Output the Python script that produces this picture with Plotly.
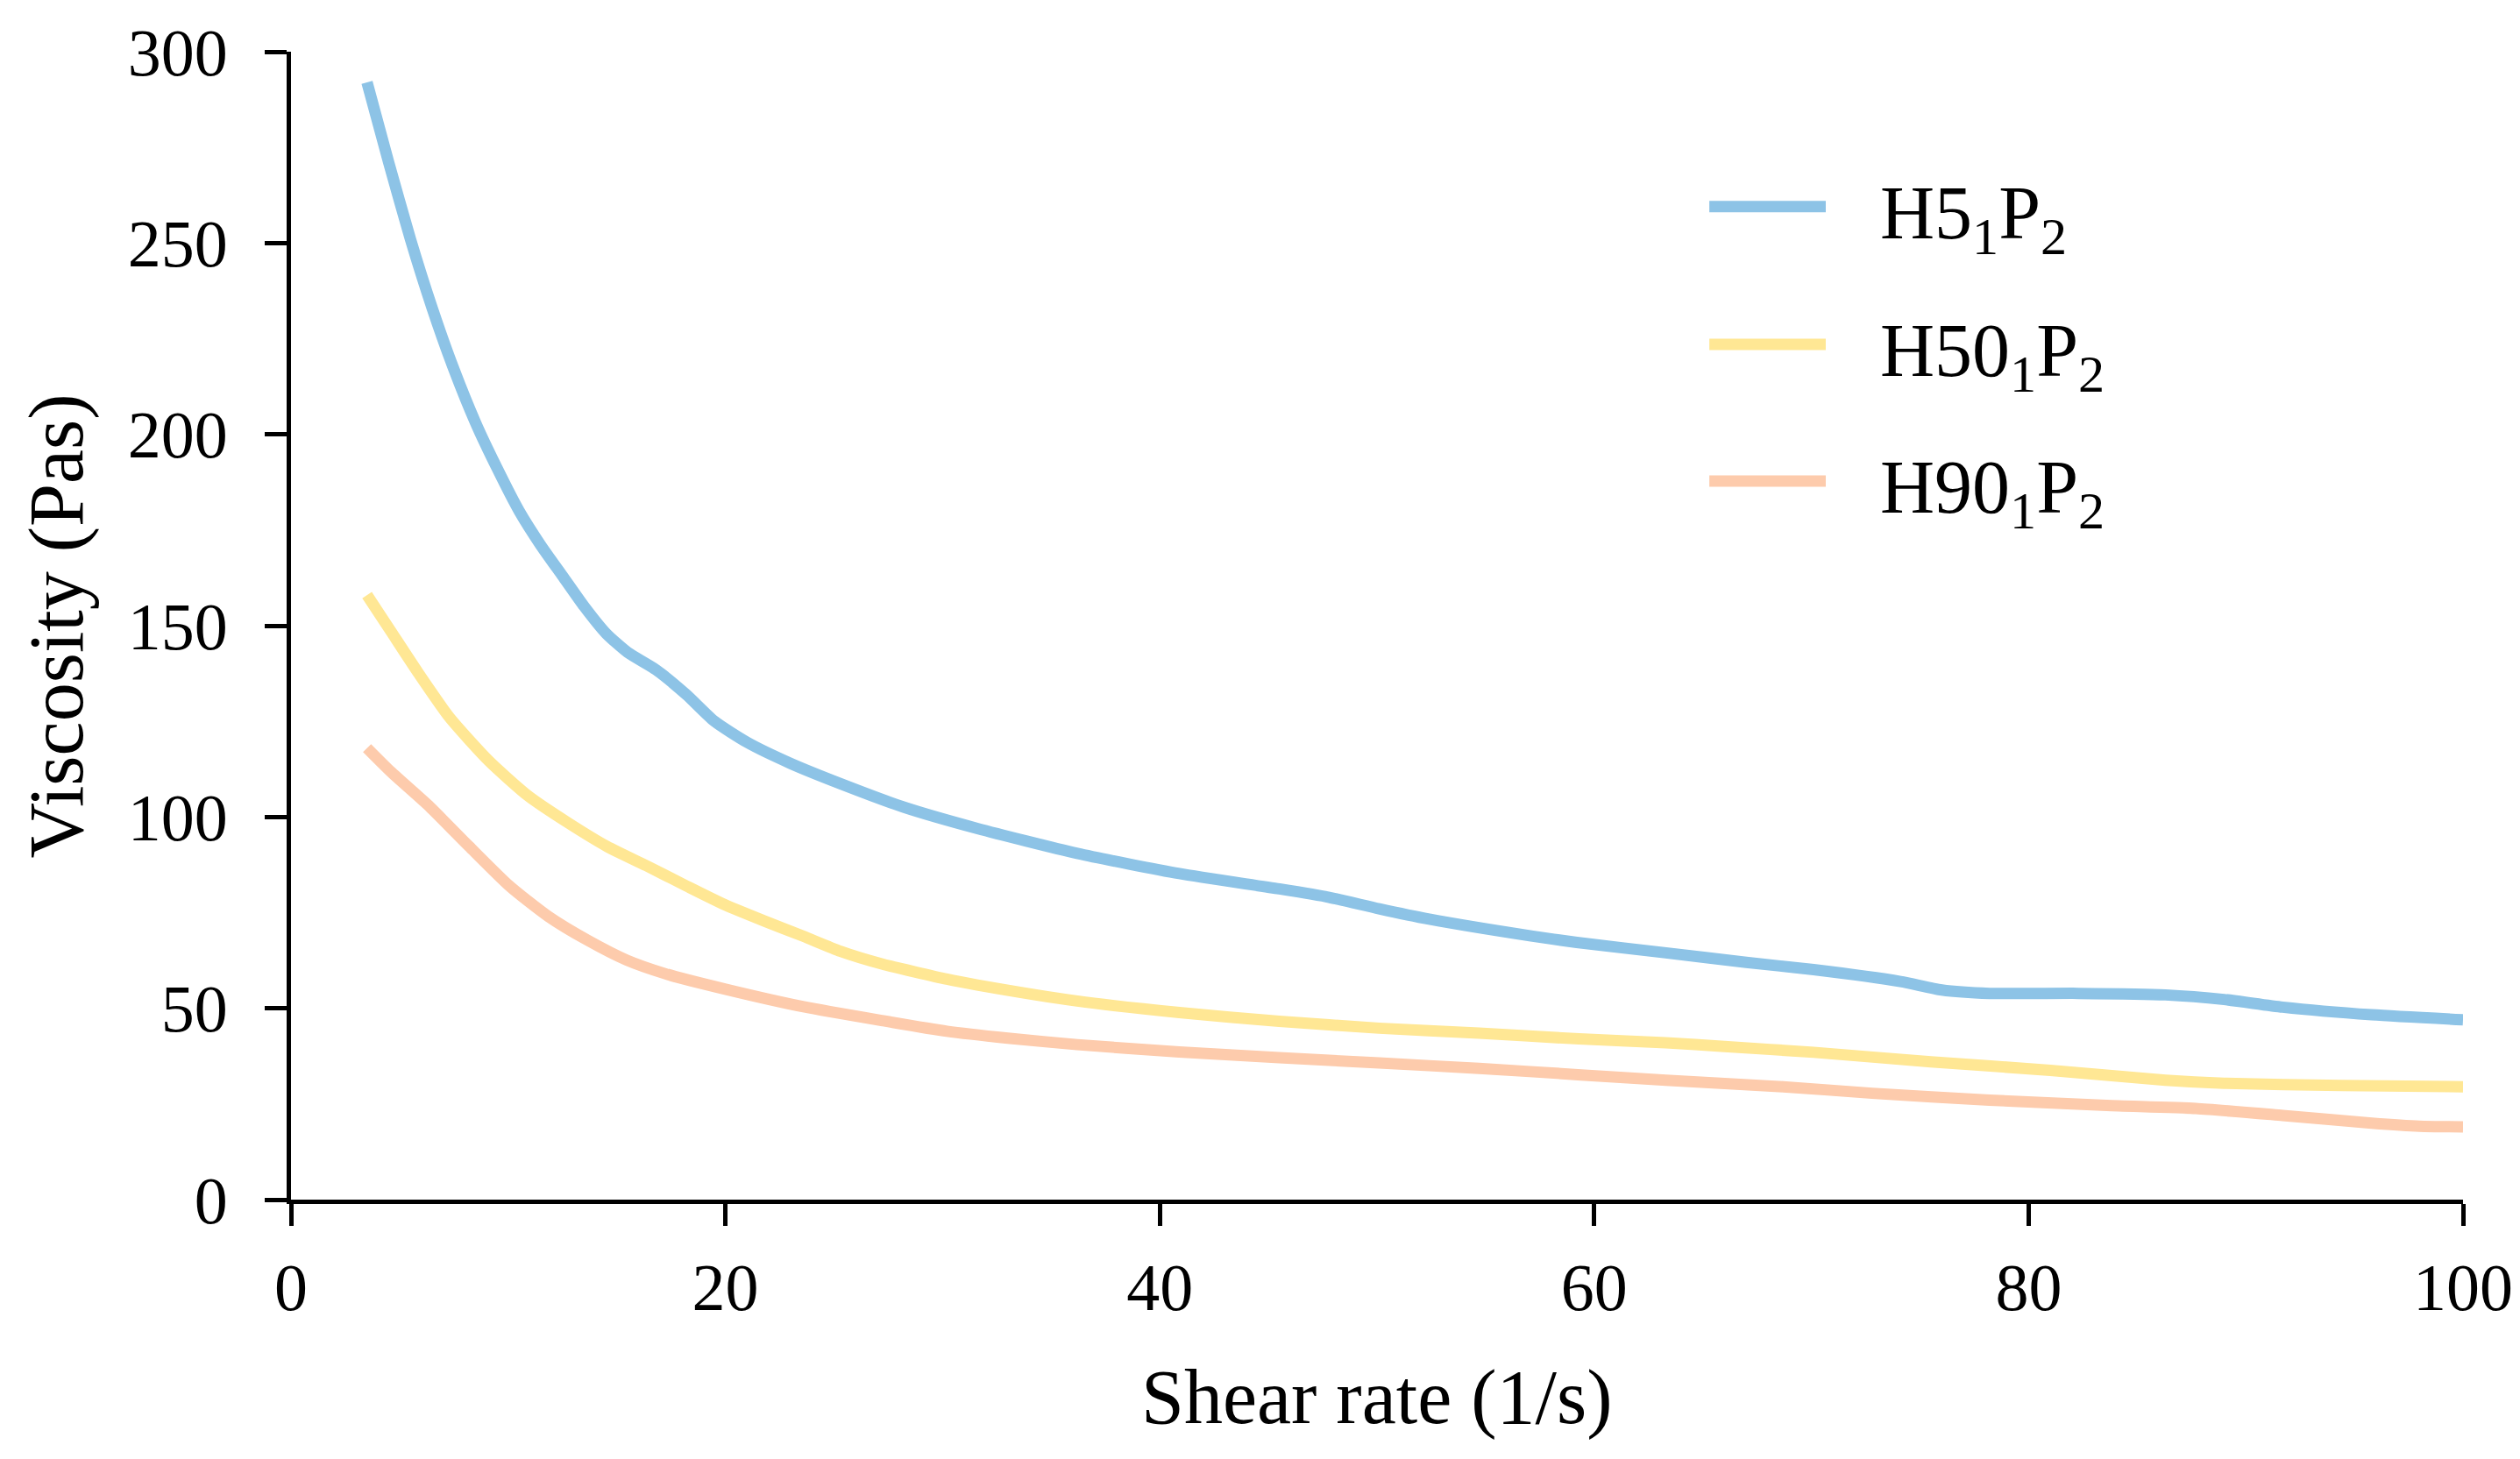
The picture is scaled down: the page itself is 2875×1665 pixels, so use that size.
import plotly.graph_objects as go

# ---- data ----
x_h5 = [3.5, 4.5, 5.5, 6.5, 7.5, 8.5, 9.5, 10.5, 11.5, 12.5, 13.5, 14.5, 15.5, 16.8,
        18.2, 19.5, 21.0, 23.0, 25.3, 28.2, 31.6, 36.2, 40.9, 45.5, 47.8, 50.1, 52.4,
        57.1, 59.2, 63.3, 67.0, 70.1, 74.1, 76.0, 78.2, 82.3, 86.3, 89.0, 91.7, 95.8,
        100.0]
y_h5 = [292, 271, 251, 233, 217, 203, 191, 180, 171, 163, 155, 148, 143, 138.5,
        132, 125, 119.5, 114, 108.7, 102.6, 97, 90.5, 85.2, 81.2, 79, 76, 73.3,
        68.9, 67.2, 64.5, 62, 60.1, 57, 54.8, 53.9, 53.9, 53.5, 52.3, 50.3, 48.3,
        47]

x_h50 = [3.5, 4.6, 5.9, 7.3, 9.1, 10.9, 12.75, 14.55, 16.35, 18.2, 20.0, 21.8, 23.6,
         25.3, 27.2, 30.2, 31.6, 36.2, 40.9, 45.5, 50.1, 54.7, 59.3, 63.3, 66.0, 70.1,
         75.5, 81.0, 86.3, 89.0, 94.4, 100.0]
y_h50 = [158, 148.5, 137.3, 126, 114.7, 105.6, 98.5, 92.3, 87.3, 82, 77, 72.8, 68.8,
         64.9, 61.6, 57.6, 56.1, 51.9, 48.9, 46.6, 44.8, 43.5, 42, 41, 40, 38.5,
         36, 33.8, 31.2, 30.4, 29.8, 29.5]

x_h90 = [3.5, 4.6, 6.4, 8.2, 10.05, 11.85, 13.65, 15.45, 17.25, 20.0, 23.6, 27.2, 30.2,
         33.0, 36.2, 40.9, 45.5, 50.1, 54.7, 59.4, 63.3, 68.7, 72.8, 78.2, 83.6, 87.7,
         91.7, 95.8, 98.0, 100.0]
y_h90 = [118, 111.8, 102.6, 92.3, 82, 74, 67.8, 62.6, 59, 55, 50.4, 46.8, 44.0,
         42.2, 40.5, 38.6, 37.1, 35.7, 34.3, 32.6, 31.2, 29.5, 27.8, 26, 24.6, 23.8,
         22, 20, 19.2, 19]

names = ["H5<sub>1</sub>P<sub>2</sub>", "H50<sub>1</sub>P<sub>2</sub>", "H90<sub>1</sub>P<sub>2</sub>"]
colors = ["#8DC3E6", "#FFE794", "#FDCBAC"]

x_ticks = [0, 20, 40, 60, 80, 100]
y_ticks = [0, 50, 100, 150, 200, 250, 300]

FONT = "Liberation Serif"

fig = go.Figure()
for xs, ys, nm, c in zip([x_h5, x_h50, x_h90], [y_h5, y_h50, y_h90], names, colors):
    fig.add_trace(go.Scatter(x=xs, y=ys, mode="lines", name=nm,
                             line=dict(color=c, width=13, shape="spline", smoothing=0.6),
                             showlegend=False))

axis_common = dict(showline=True, linecolor="black", linewidth=5, ticks="outside",
                   ticklen=25, tickwidth=5, tickcolor="black", showgrid=False,
                   zeroline=False, automargin=False,
                   tickfont=dict(family=FONT, size=76, color="black"))

# page body has an 8px default margin, so the figure is sized to fit inside the window
fig.update_layout(
    width=2867, height=1657,
    margin=dict(l=324, r=65, t=51, b=296),
    paper_bgcolor="white", plot_bgcolor="white",
    xaxis=dict(range=[0, 100], tickvals=x_ticks, ticklabelstandoff=5, **axis_common),
    yaxis=dict(range=[0, 300], tickvals=y_ticks, ticklabelstandoff=27, **axis_common),
)

# axis titles
fig.add_annotation(text="Shear rate (1/s)", xref="paper", yref="paper", x=0.5, y=-0.172,
                   xanchor="center", yanchor="middle", showarrow=False,
                   font=dict(family=FONT, size=88, color="black"))
fig.add_annotation(text="Viscosity (Pas)", xref="paper", yref="paper", x=-0.108, y=0.5,
                   xanchor="center", yanchor="middle", textangle=-90, showarrow=False,
                   font=dict(family=FONT, size=88, color="black"))

# manual legend
leg_y = [0.865, 0.745, 0.626]
for nm, c, ly in zip(names, colors, leg_y):
    fig.add_shape(type="line", xref="paper", yref="paper", x0=0.653, x1=0.7066,
                  y0=ly, y1=ly, line=dict(color=c, width=13))
    fig.add_annotation(text=nm, xref="paper", yref="paper", x=0.731, y=ly - 0.01,
                       xanchor="left", yanchor="middle", showarrow=False,
                       font=dict(family=FONT, size=86, color="black"))

fig.write_html("out.html")
